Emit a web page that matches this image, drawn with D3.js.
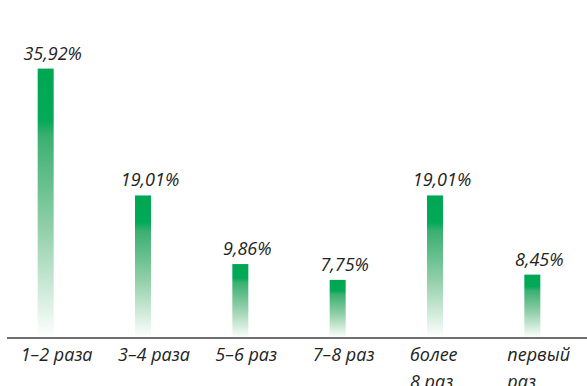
<!DOCTYPE html>
<html>
<head>
<meta charset="utf-8">
<script src="https://cdn.jsdelivr.net/npm/d3@7"></script>
<style>
  html, body { margin: 0; padding: 0; background: #fff; }
  svg { display: block; }
  text { font-family: "Open Sans", sans-serif; font-style: italic; fill: #222; }
</style>
</head>
<body>
<svg id="chart" width="587" height="386"></svg>
<script>
// Categories (number of visits) and their shares, %
const categories = [["1–2 раза"], ["3–4 раза"], ["5–6 раз"], ["7–8 раз"], ["более", "8 раз"], ["первый", "раз"]];
const values = [35.92, 19.01, 9.86, 7.75, 19.01, 8.45];
const valueLabels = ["35,92%", "19,01%", "9,86%", "7,75%", "19,01%", "8,45%"];

const width = 587, height = 386;
const baseline = 338;
const barWidth = 16;

const svg = d3.select("#chart");

const x = d3.scaleBand()
  .domain(d3.range(categories.length))
  .range([-3, 581])
  .padding(0);

const y = d3.scaleLinear()
  .domain([0, 36])
  .range([baseline, baseline - 270]);

// Vertical fade: solid green at the top, fading to white towards the axis
const defs = svg.append("defs");
const grad = defs.append("linearGradient")
  .attr("id", "barFade")
  .attr("x1", 0).attr("y1", 0).attr("x2", 0).attr("y2", 1);
[
  [0, "#00a652"],
  [0.19, "#02a958"],
  [0.25, "#3aaf71"],
  [0.6, "#93d0aa"],
  [1, "#ffffff"]
].forEach(([o, c]) => grad.append("stop").attr("offset", o).attr("stop-color", c));

const cx = i => x(i) + x.bandwidth() / 2;

svg.append("g")
  .selectAll("rect")
  .data(values)
  .join("rect")
  .attr("x", (d, i) => cx(i) - barWidth / 2)
  .attr("y", d => y(d))
  .attr("width", barWidth)
  .attr("height", d => baseline - y(d))
  .attr("fill", "url(#barFade)");

// Value labels above bars
svg.append("g")
  .selectAll("text")
  .data(values)
  .join("text")
  .attr("x", (d, i) => cx(i) + 7)
  .attr("y", d => y(d) - 9)
  .attr("text-anchor", "middle")
  .attr("font-size", 18)
  .text((d, i) => valueLabels[i]);

// Baseline axis
svg.append("line")
  .attr("x1", 7).attr("x2", width)
  .attr("y1", baseline).attr("y2", baseline)
  .attr("stroke", "#707070")
  .attr("stroke-width", 2);

// Category labels, left-aligned under each bar
const cat = svg.append("g")
  .selectAll("text")
  .data(categories)
  .join("text")
  .attr("x", (d, i) => cx(i) - 25)
  .attr("y", 361)
  .attr("font-size", 18)
  .attr("text-anchor", "start");

cat.selectAll("tspan")
  .data((d, i) => d.map(line => ({ line, i })))
  .join("tspan")
  .attr("x", d => cx(d.i) - 25)
  .attr("dy", (d, j) => j === 0 ? 0 : 27)
  .text(d => d.line);
</script>
</body>
</html>
